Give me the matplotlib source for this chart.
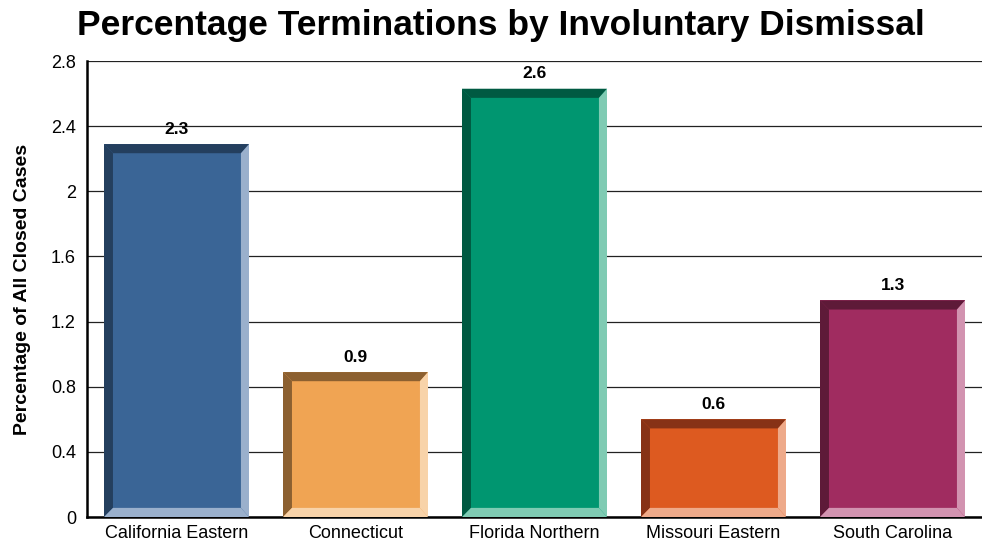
import matplotlib
matplotlib.use('Agg')
import matplotlib.pyplot as plt
from matplotlib.patches import Polygon

plt.rcParams['font.family'] = ['Liberation Sans', 'DejaVu Sans']

# Data
districts = ['California Eastern', 'Connecticut', 'Florida Northern',
             'Missouri Eastern', 'South Carolina']
pct_dismissed = [2.29, 0.89, 2.63, 0.60, 1.33]
yticks = [0, 0.4, 0.8, 1.2, 1.6, 2, 2.4, 2.8]

# (face, dark bevel, light bevel)
face_colors = ['#3A6596', '#F0A453', '#009670', '#DD5A20', '#A02C60']
dark_colors = ['#243F5E', '#8C6030', '#005A42', '#873216', '#5E1A38']
light_colors = ['#9AB0CC', '#F8D3A9', '#7FCBB3', '#EEAA8A', '#D293B0']

fig = plt.figure(figsize=(9.82, 5.5), dpi=100)
ax = fig.add_axes([0.0886, 0.06, 0.9114, 0.829])

bar_w = 0.81
bars = ax.bar(range(len(districts)), pct_dismissed, width=bar_w,
              color=face_colors, zorder=2, linewidth=0)

# bevel thickness in data units
bx = 0.05    # left band
bxr = 0.045  # right band
by = 0.056   # top / bottom band

for rect, dk, lt in zip(bars, dark_colors, light_colors):
    x0 = rect.get_x()
    x1 = x0 + rect.get_width()
    h = rect.get_height()
    # top band (dark)
    ax.add_patch(Polygon([(x0, h), (x1, h), (x1 - bxr, h - by), (x0 + bx, h - by)],
                         closed=True, facecolor=dk, edgecolor='none', zorder=3))
    # left band (dark)
    ax.add_patch(Polygon([(x0, 0), (x0, h), (x0 + bx, h - by), (x0 + bx, by)],
                         closed=True, facecolor=dk, edgecolor='none', zorder=3))
    # right band (light)
    ax.add_patch(Polygon([(x1, h), (x1, 0), (x1 - bxr, by), (x1 - bxr, h - by)],
                         closed=True, facecolor=lt, edgecolor='none', zorder=3))
    # bottom band (light)
    ax.add_patch(Polygon([(x0, 0), (x1, 0), (x1 - bxr, by), (x0 + bx, by)],
                         closed=True, facecolor=lt, edgecolor='none', zorder=3))
    ax.text(x0 + rect.get_width() / 2, h + 0.045, f'{h:.1f}', ha='center', va='bottom',
            fontsize=12.5, fontweight='bold', zorder=4)

ax.set_xlim(-0.5, len(districts) - 0.5)
ax.set_ylim(0, 2.8)
ax.set_yticks(yticks)
ax.set_yticklabels([f'{t:g}' for t in yticks])
ax.set_xticks(range(len(districts)))
ax.set_xticklabels(districts)
ax.tick_params(axis='both', labelsize=13, length=0)
ax.tick_params(axis='x', pad=6)
ax.tick_params(axis='y', pad=8)

ax.yaxis.grid(True, color='#222222', linewidth=0.9, zorder=0)
ax.set_axisbelow(True)
for side in ['top', 'right']:
    ax.spines[side].set_visible(False)
ax.spines['left'].set_linewidth(1.8)
ax.spines['bottom'].set_linewidth(1.8)

ax.set_ylabel('Percentage of All Closed Cases', fontsize=14, fontweight='bold', labelpad=14)

fig.text(0.51, 0.954, 'Percentage Terminations by Involuntary Dismissal', ha='center',
         va='center', fontsize=25.5, fontweight='bold')

fig.savefig('out.png', dpi=100, facecolor='white')
